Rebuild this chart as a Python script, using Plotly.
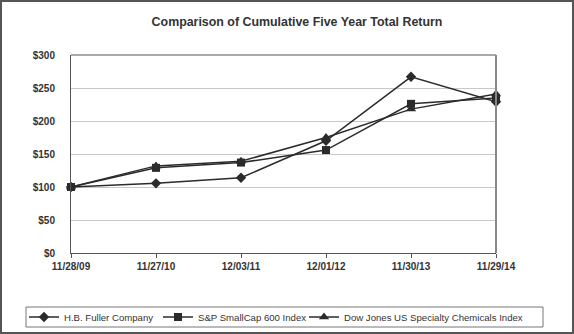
import plotly.graph_objects as go

dates = ["11/28/09", "11/27/10", "12/03/11", "12/01/12", "11/30/13", "11/29/14"]
hb_fuller = [100, 105.5, 114, 170, 267, 229]
sp_smallcap = [100, 129, 137, 156, 226, 235]
dj_specialty = [100, 132, 139, 175, 218, 241]
y_ticks = [0, 50, 100, 150, 200, 250, 300]
y_labels = ["$0", "$50", "$100", "$150", "$200", "$250", "$300"]

line_col = "#2b2b2b"
series = [
    ("H.B. Fuller Company", hb_fuller, "diamond", 8, "legend"),
    ("S&P SmallCap 600 Index", sp_smallcap, "square", 8, "legend2"),
    ("Dow Jones US Specialty Chemicals Index", dj_specialty, "triangle-up", 9, "legend3"),
]

fig = go.Figure()
for name, vals, sym, sz, lg in series:
    fig.add_trace(go.Scatter(
        x=list(range(len(dates))), y=vals, name=name, mode="lines+markers",
        line=dict(color=line_col, width=1.5),
        marker=dict(symbol=sym, size=sz, color=line_col),
        cliponaxis=False, legend=lg,
    ))

W, H = 574, 334
L, R, T, B = 71, 78, 55, 81
pw, ph = W - L - R, H - T - B
FONT = "Liberation Sans, Arial, sans-serif"

def px_x(p):
    return (p - L) / pw

def px_y(p):
    return (H - B - p) / ph

def leg(xpx):
    return dict(
        orientation="v", xref="container", yref="container",
        x=xpx / W, xanchor="left", y=1 - 317 / H, yanchor="middle",
        borderwidth=0, bgcolor="rgba(0,0,0,0)",
        font=dict(size=9.6, color="#333333", family=FONT),
        itemwidth=30,
    )

fig.update_layout(
    width=W, height=H,
    margin=dict(l=L, r=R, t=T, b=B, autoexpand=False),
    paper_bgcolor="white", plot_bgcolor="white",
    font=dict(family=FONT, color="#333333"),
    title=dict(text="<b>Comparison of Cumulative Five Year Total Return</b>",
               xref="container", yref="container",
               x=297 / W, xanchor="center", y=1 - 22 / H, yanchor="middle",
               font=dict(size=12.4, color="#333333")),
    xaxis=dict(
        range=[0, 5], tickmode="array", tickvals=list(range(len(dates))),
        ticktext=["<b>%s</b>" % d for d in dates],
        showgrid=False, zeroline=False, showline=True, linecolor="#555555", linewidth=1,
        ticks="outside", ticklen=4, tickcolor="#555555",
        tickfont=dict(size=10, color="#333333", family=FONT),
    ),
    yaxis=dict(
        range=[0, 300], tickmode="array", tickvals=y_ticks,
        ticktext=["<b>%s</b>" % t for t in y_labels],
        showgrid=True, gridcolor="#c8c8c8", gridwidth=1, zeroline=False,
        showline=True, linecolor="#555555", linewidth=1, ticks="", ticklabelstandoff=13,
        tickfont=dict(size=10, color="#333333", family=FONT),
    ),
    legend=leg(24),
    legend2=leg(158),
    legend3=leg(304),
    showlegend=True,
)

# plot area right/top border
fig.add_shape(type="line", xref="paper", yref="paper", x0=0, x1=1, y0=1, y1=1,
              line=dict(color="#555555", width=1))
fig.add_shape(type="line", xref="paper", yref="paper", x0=1, x1=1, y0=0, y1=1,
              line=dict(color="#888888", width=2))
# legend box
fig.add_shape(type="rect", xref="paper", yref="paper",
              x0=px_x(26), x1=px_x(543), y0=px_y(327), y1=px_y(307),
              line=dict(color="#777777", width=1))
# outer frame
fig.add_shape(type="rect", xref="paper", yref="paper",
              x0=px_x(1), x1=px_x(573), y0=px_y(333), y1=px_y(1),
              line=dict(color="#555555", width=2))

fig.write_html("out.html")
